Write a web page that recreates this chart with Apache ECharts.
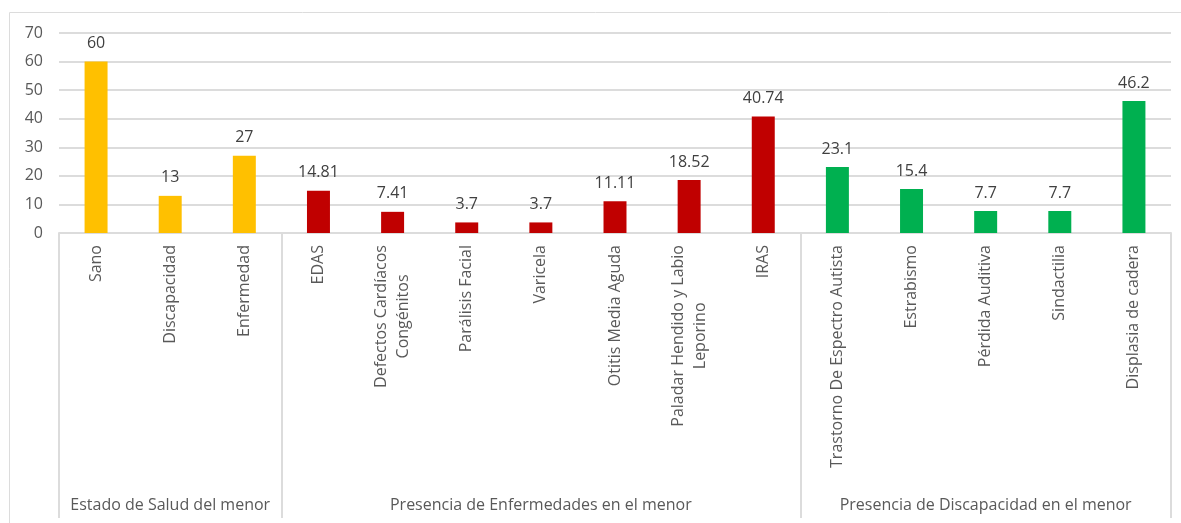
<!DOCTYPE html>
<html>
<head>
<meta charset="utf-8">
<script src="https://cdn.jsdelivr.net/npm/echarts@6/dist/echarts.min.js"></script>
<style>
  html, body { margin: 0; padding: 0; background: #fff; }
  #chart { width: 1181px; height: 523px; }
</style>
</head>
<body>
<div id="chart"></div>
<script>
// categories, grouped like the Excel multi-level axis
const categories = [
  'Sano', 'Discapacidad', 'Enfermedad',
  'EDAS', 'Defectos Cardíacos\nCongénitos', 'Parálisis Facial', 'Varicela',
  'Otitis Media Aguda', 'Paladar Hendido y Labio\nLeporino', 'IRAS',
  'Trastorno De Espectro Autista', 'Estrabismo', 'Pérdida Auditiva',
  'Sindactilia', 'Displasia de cadera'
]
const values = [60, 13, 27, 14.81, 7.41, 3.7, 3.7, 11.11, 18.52, 40.74, 23.1, 15.4, 7.7, 7.7, 46.2]
const valueLabels = ['60', '13', '27', '14.81', '7.41', '3.7', '3.7', '11.11', '18.52', '40.74', '23.1', '15.4', '7.7', '7.7', '46.2']
const groupNames = ['Estado de Salud del menor', 'Presencia de Enfermedades en el menor', 'Presencia de Discapacidad en el menor']
const groupSizes = [3, 7, 5]
const groupColors = ['#FFC000', '#C00000', '#00B050']
const yTicks = [0, 10, 20, 30, 40, 50, 60, 70]

// group boundaries and centres on a 0..N scale
const bounds = [0]
groupSizes.forEach((n) => bounds.push(bounds[bounds.length - 1] + n))
const centres = groupSizes.map((n, i) => bounds[i] + n / 2)
const colorOf = (idx) => {
  for (let g = 0; g < groupSizes.length; g++) if (idx < bounds[g + 1]) return groupColors[g]
  return groupColors[0]
}

const FONT = '"Open Sans", "Noto Sans", sans-serif'
const LINE = '#DCDCDC'

const chart = echarts.init(document.getElementById('chart'))
chart.setOption({
  animation: false,
  graphic: [{
    type: 'rect', left: 7, top: 10, silent: true,
    shape: { width: 1173, height: 520 },
    style: { fill: 'none', stroke: LINE, lineWidth: 1 }
  }],
  grid: { left: 59, right: 10, top: 33, bottom: 290 },
  xAxis: [
    {
      type: 'category',
      data: categories,
      axisLine: { lineStyle: { color: LINE, width: 2 } },
      axisTick: { show: false },
      axisLabel: {
        rotate: 90, interval: 0, margin: 12,
        color: '#595959', fontSize: 16, fontFamily: FONT,
        formatter: (v) => v.split('\n').map((s) => '{c|' + s + '}').join('\n'),
        rich: { c: { align: 'center', color: '#595959', fontSize: 16, fontFamily: FONT, lineHeight: 22 } }
      }
    },
    {
      type: 'value',
      position: 'bottom',
      offset: 285,
      min: 0, max: categories.length,
      axisLine: { show: false },
      splitLine: { show: false },
      axisTick: {
        show: true, inside: true, length: 285,
        customValues: bounds,
        lineStyle: { color: LINE, width: 2 }
      },
      axisLabel: {
        inside: true, margin: 5,
        customValues: centres,
        color: '#595959', fontSize: 16, fontFamily: FONT,
        formatter: (v) => {
          const i = centres.indexOf(v)
          return i >= 0 ? groupNames[i] : ''
        }
      }
    }
  ],
  yAxis: {
    type: 'value', min: yTicks[0], max: yTicks[yTicks.length - 1], interval: 10,
    axisLine: { show: false },
    axisTick: { show: false },
    axisLabel: { color: '#595959', fontSize: 16, fontFamily: FONT, margin: 16 },
    splitLine: { lineStyle: { color: LINE, width: 2 } }
  },
  series: [{
    type: 'bar',
    xAxisIndex: 0,
    barWidth: '31%',
    data: values.map((v, i) => ({ value: v, itemStyle: { color: colorOf(i) } })),
    label: {
      show: true, position: 'top', distance: 10,
      color: '#404040', fontSize: 16, fontFamily: FONT,
      formatter: (p) => valueLabels[p.dataIndex]
    }
  }]
})
</script>
</body>
</html>
